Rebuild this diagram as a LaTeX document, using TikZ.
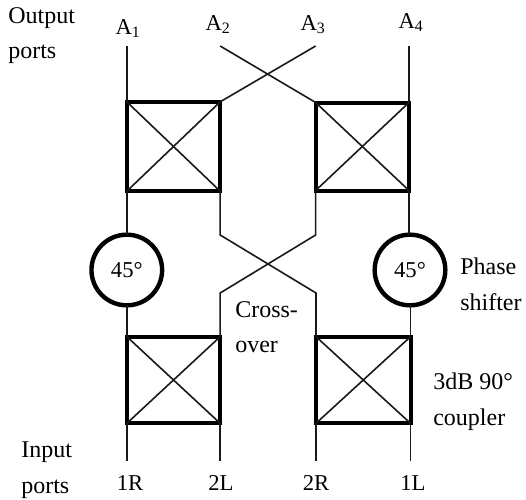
\documentclass[tikz,border=0pt]{standalone}
\usepackage{fontspec}
\setmainfont{Liberation Serif}
\usepackage{xcolor}
\usepackage{tikz}
\usetikzlibrary{positioning, calc}

\begin{document}
\begin{tikzpicture}[
    x=0.75pt,
    y=-0.75pt,
    every node/.style={font=\fontsize{17}{26}\selectfont},
    coupler/.style={
        rectangle,
        draw=black,
        line width=3pt,
        inner sep=0pt,
        outer sep=0pt
    },
    shifter/.style={
        circle,
        draw=black,
        line width=3.3pt,
        inner sep=0pt,
        outer sep=0pt,
        minimum size=53pt
    },
    wire/.style={
        line width=1.2pt,
        draw=black!90
    },
    port/.style={
        anchor=base,
        inner sep=0pt
    },
    note/.style={
        anchor=north west,
        align=left,
        inner sep=0pt,
        font=\fontsize{18}{26.5}\selectfont
    }
]
\useasboundingbox (0,0) rectangle (526,500);

% Couplers
\node[coupler, minimum width=70pt, minimum height=67pt] (upperleft) at (173.5,146.5) {};
\node[coupler, minimum width=70pt, minimum height=66pt] (upperright) at (362.3,146.5) {};
\node[coupler, minimum width=70pt, minimum height=65pt] (lowerleft) at (173.5,380) {};
\node[coupler, minimum width=70.9pt, minimum height=65pt] (lowerright) at (363.25,380) {};

% Phase shifters
\node[shifter] (shiftleft) at (126.8,270) {45°};
\node[shifter] (shiftright) at (410,270) {45°};

% Port labels
\node[port] (labela1) at (128,34) {A\textsubscript{1}};
\node[port] (labela2) at (218,30) {A\textsubscript{2}};
\node[port] (labela3) at (313,30) {A\textsubscript{3}};
\node[port] (labela4) at (411,28) {A\textsubscript{4}};
\node[port] (label1r) at (130,490) {1R};
\node[port] (label2l) at (221,490) {2L};
\node[port] (label2r) at (316,490) {2R};
\node[port] (label1l) at (413,490) {1L};

% Text notes
\node[note] (outputnote) at (8,7) {Output\\ports};
\node[note] (inputnote) at (21,442) {Input\\ports};
\node[note] (phasenote) at (460,258) {Phase\\shifter};
\node[note] (crossnote) at (235,301) {Cross-\\over};
\node[note] (couplernote) at (433,373) {3dB 90°\\coupler};

% Free wire ends
\coordinate (enda1) at (upperleft.north west |- 0,46);
\coordinate (enda2) at (upperleft.north east |- 0,46);
\coordinate (enda3) at (upperright.north west |- 0,46);
\coordinate (enda4) at (upperright.north east |- 0,46);
\coordinate (end1r) at (lowerleft.south west |- 0,461);
\coordinate (end2l) at (lowerleft.south east |- 0,461);
\coordinate (end2r) at (lowerright.south west |- 0,461);
\coordinate (end1l) at (lowerright.south east |- 0,461);

% Crossover bends
\coordinate (bendul) at (upperleft.south east |- 0,235);
\coordinate (bendur) at (upperright.south west |- 0,235);
\coordinate (bendll) at (lowerleft.north east |- 0,293);
\coordinate (bendlr) at (lowerright.north west |- 0,293);

% Diagonals inside the couplers
\foreach \part in {upperleft, upperright, lowerleft, lowerright} {
    \draw[wire] (\part.north west) -- (\part.south east);
    \draw[wire] (\part.north east) -- (\part.south west);
}

% Output side
\draw[wire] (enda1) -- (upperleft.north west);
\draw[wire] (enda4) -- (upperright.north east);
\draw[wire] (enda2) -- (upperright.north west);
\draw[wire] (enda3) -- (upperleft.north east);

% Through the phase shifters
\draw[wire] (upperleft.south west) -- (upperleft.south west |- shiftleft.north);
\draw[wire] (lowerleft.north west |- shiftleft.south) -- (lowerleft.north west);
\draw[wire] (upperright.south east) -- (upperright.south east |- shiftright.north);
\draw[wire] (lowerright.north east |- shiftright.south) -- (lowerright.north east);

% Crossover
\draw[wire] (upperleft.south east) -- (bendul) -- (bendlr) -- (lowerright.north west);
\draw[wire] (upperright.south west) -- (bendur) -- (bendll) -- (lowerleft.north east);

% Input side
\draw[wire] (lowerleft.south west) -- (end1r);
\draw[wire] (lowerleft.south east) -- (end2l);
\draw[wire] (lowerright.south west) -- (end2r);
\draw[wire] (lowerright.south east) -- (end1l);

\end{tikzpicture}
\end{document}
